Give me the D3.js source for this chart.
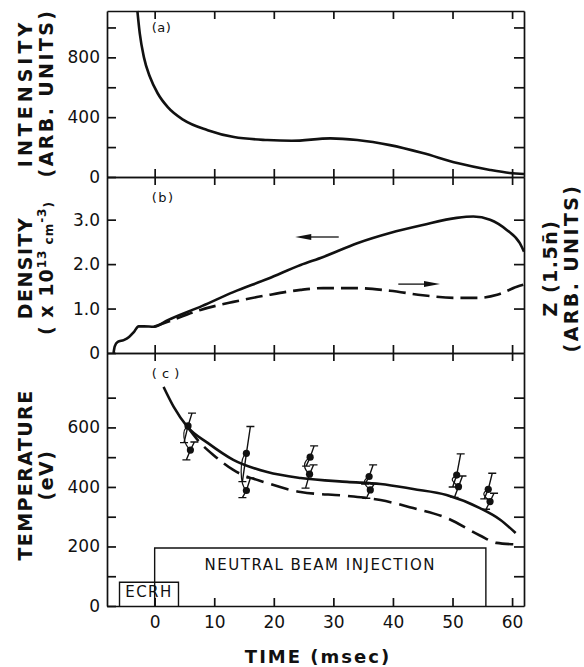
<!DOCTYPE html>
<html>
<head>
<meta charset="utf-8">
<script src="https://cdn.jsdelivr.net/npm/d3@7"></script>
<style>
  body { margin: 0; background: #fff; }
  svg { font-family: "DejaVu Sans", sans-serif; }
</style>
</head>
<body>
<div class="chart"></div>
<script>
// time axis (msec)
var timeTicks = [0, 10, 20, 30, 40, 50, 60];

// (a) intensity, arb. units
var intensityTime  = [-2.9, -2.5, -1.8, -0.8, 0.5, 2.2, 4.9, 8.9, 13.3, 18.9, 23, 29.5, 34, 39.5, 45, 50.8, 56.3, 59.6, 62];
var intensityValue = [1110, 960, 800, 670, 560, 467, 380, 313, 267, 247, 242, 258, 247, 213, 160, 93, 47, 27, 20];
var intensityTicks = [0, 200, 400, 600, 800, 1000];
var intensityLabels = [0, 400, 800];

// (b) density, x10^13 cm^-3 (left axis) and Z(1.5 n) (right axis)
var densityTime  = [-6.9, -6.7, -6.2, -5.2, -4.3, -3.5, -2.7, -1.8, -0.1, 2.2, 8, 13.2, 19, 24.5, 28.3, 34, 39.5, 45, 50.7, 53.5, 56.3, 59.1, 61.3, 62];
var densityValue = [0, 0.15, 0.25, 0.29, 0.36, 0.47, 0.6, 0.6, 0.59, 0.74, 1.06, 1.37, 1.67, 1.98, 2.16, 2.47, 2.7, 2.88, 3.04, 3.07, 3.0, 2.77, 2.47, 2.28];
var zTime  = [-0.1, 2.2, 7.7, 13.2, 18.9, 24.5, 28.3, 34, 39.5, 45, 50.7, 54.1, 57.5, 60.8, 62];
var zValue = [0.59, 0.7, 0.97, 1.15, 1.3, 1.42, 1.46, 1.46, 1.4, 1.3, 1.24, 1.24, 1.31, 1.49, 1.54];
var densityTicks = [0, 1, 2, 3];

// (c) temperature, eV
var tempTime  = [1.5, 3.2, 5.5, 8.9, 13.2, 18.9, 24.5, 32.3, 37.9, 43.4, 49, 54.6, 58, 60.6];
var tempValue = [736, 669, 602, 548, 491, 450, 430, 417, 410, 393, 373, 329, 290, 245];
var tempDashTime  = [5.5, 7.2, 10, 13.2, 18.9, 24.5, 32.3, 37.9, 43.4, 49, 54.6, 57.4, 60.5, 61.5];
var tempDashValue = [602, 558, 505, 457, 413, 383, 370, 356, 329, 296, 237, 212, 207, 206];
var pointTime  = [5.6, 6.0, 15.4, 15.4, 26.1, 26.0, 36.0, 36.2, 50.7, 51.0, 56.0, 56.3];
var pointValue = [605, 524, 513, 388, 500, 443, 435, 390, 440, 401, 392, 351];
var pointLow   = [549, 491, 418, 364, 470, 396, 410, 362, 400, 365, 360, 325];
var pointHigh  = [648, 551, 603, 430, 538, 474, 474, 410, 511, 437, 446, 379];
var tempTicks = [0, 100, 200, 300, 400, 500, 600, 700];
var tempLabels = [0, 200, 400, 600];

// heating phases
var phaseNames = ['ECRH', 'NEUTRAL BEAM INJECTION'];
var phaseStart = [-5.9, 0];
var phaseEnd   = [4, 55.6];
var phaseLevel = [80, 195];

var svg = d3.select('.chart').append('svg:svg')
  .attr('width', 584)
  .attr('height', 667);

var left = 107, right = 524;
var x = d3.scaleLinear().domain([-8, 62]).range([left, right]);

var yA = d3.scaleLinear().domain([0, 1110]).range([177, 11]);
var yB = d3.scaleLinear().domain([0, 3.96]).range([353, 177]);
var yC = d3.scaleLinear().domain([0, 850]).range([606, 353]);

var zip = function(ts, vs) {
  return ts.map(function(t, i) { return [t, vs[i]]; });
};

var styleAxis = function(g) {
  g.attr('font-family', null).attr('font-size', 17);
  g.selectAll('path, line').attr('stroke', '#111').attr('stroke-width', 1.7);
  g.selectAll('text').attr('fill', '#111');
};

var drawFrame = function(y, ticks, labels, fmt, showTime) {
  svg.append('g')
    .attr('transform', 'translate(' + left + ',0)')
    .call(d3.axisLeft(y).tickValues(ticks).tickSizeInner(-9).tickSizeOuter(0).tickPadding(7)
      .tickFormat(function(d) { return labels.indexOf(d) >= 0 ? fmt(d) : ''; }))
    .call(styleAxis);
  svg.append('g')
    .attr('transform', 'translate(' + right + ',0)')
    .call(d3.axisRight(y).tickValues(ticks.filter(function(d) { return d > 0; }))
      .tickSizeInner(-10).tickSizeOuter(0).tickFormat(''))
    .call(styleAxis);
  svg.append('g')
    .attr('transform', 'translate(0,' + y.range()[1] + ')')
    .call(d3.axisTop(x).tickValues(timeTicks).tickSizeInner(-8).tickSizeOuter(0).tickFormat(''))
    .call(styleAxis);
  svg.append('g')
    .attr('transform', 'translate(0,' + y.range()[0] + ')')
    .call(d3.axisBottom(x).tickValues(timeTicks).tickSizeInner(-8).tickSizeOuter(0).tickPadding(10)
      .tickFormat(showTime ? d3.format('d') : ''))
    .call(styleAxis);
};

drawFrame(yA, intensityTicks, intensityLabels, d3.format('d'), false);
drawFrame(yB, densityTicks, [0, 1, 2, 3], function(d) { return d === 0 ? '0' : d3.format('.1f')(d); }, false);
drawFrame(yC, tempTicks, tempLabels, d3.format('d'), true);

var curve = function(y, pts, dash) {
  svg.append('path')
    .datum(pts)
    .attr('fill', 'none')
    .attr('stroke', '#111')
    .attr('stroke-width', 2.6)
    .attr('stroke-dasharray', dash || null)
    .attr('d', d3.line()
      .x(function(d) { return x(d[0]); })
      .y(function(d) { return y(d[1]); })
      .curve(d3.curveMonotoneX));
};

curve(yA, zip(intensityTime, intensityValue));
curve(yB, zip(densityTime, densityValue));
curve(yB, zip(zTime, zValue), '17,7');
curve(yC, zip(tempTime, tempValue));
curve(yC, zip(tempDashTime, tempDashValue), '18,8');

// arrows pointing to the axis each density curve belongs to
var arrow = function(t0, t1, v) {
  var x0 = x(t0), x1 = x(t1), yy = yB(v), dir = x1 > x0 ? 1 : -1;
  svg.append('line')
    .attr('x1', x0).attr('x2', x1 - dir * 12)
    .attr('y1', yy).attr('y2', yy)
    .attr('stroke', '#111').attr('stroke-width', 1.3);
  svg.append('path')
    .attr('d', 'M' + x1 + ',' + yy + 'L' + (x1 - dir * 16) + ',' + (yy - 3) + 'L' + (x1 - dir * 16) + ',' + (yy + 3) + 'Z')
    .attr('fill', '#111');
};
arrow(30.9, 23.6, 2.61);
arrow(40.9, 47.9, 1.55);

// measured temperatures with error bars; pairs are joined by a small hook
var pts = svg.append('g');
pointTime.forEach(function(t, i) {
  var cx = x(t);
  var lo = yC(pointLow[i]), hi = yC(pointHigh[i]), cy = yC(pointValue[i]);
  pts.append('path')
    .attr('d', 'M' + (cx - 4) + ',' + lo + 'L' + cx + ',' + cy + 'L' + (cx + 4) + ',' + hi +
      'M' + (cx - 8) + ',' + lo + 'H' + cx +
      'M' + cx + ',' + hi + 'H' + (cx + 8))
    .attr('fill', 'none')
    .attr('stroke', '#111')
    .attr('stroke-width', 1.4);
  if (i % 2 === 0) {
    var bx = x(pointTime[i + 1]), by = yC(pointValue[i + 1]);
    pts.append('path')
      .attr('d', 'M' + cx + ',' + cy + 'C' + (cx - 7) + ',' + (cy + 4) + ' ' + (bx - 7) + ',' + (by - 6) + ' ' + bx + ',' + by)
      .attr('fill', 'none')
      .attr('stroke', '#111')
      .attr('stroke-width', 1.2);
  }
  pts.append('circle')
    .attr('cx', cx).attr('cy', cy).attr('r', 3.6)
    .attr('fill', '#111');
});

// heating phase boxes
phaseNames.forEach(function(name, i) {
  var x0 = x(phaseStart[i]), x1 = x(phaseEnd[i]), top = yC(phaseLevel[i]);
  svg.append('path')
    .attr('d', 'M' + x0 + ',' + yC(0) + 'V' + top + 'H' + x1 + 'V' + yC(0))
    .attr('fill', 'none').attr('stroke', '#111').attr('stroke-width', 1.4);
  svg.append('text')
    .attr('x', (x0 + x1) / 2)
    .attr('y', i === 0 ? 597 : 570)
    .attr('text-anchor', 'middle')
    .attr('font-size', 15)
    .attr('letter-spacing', 1.5)
    .attr('fill', '#111')
    .text(name);
});

// panel tags
[['(a)', yA, 1000, 0.5], ['(b)', yB, 3.5, 1.5], ['( c )', yC, 780, 0.5]].forEach(function(p) {
  svg.append('text')
    .attr('x', x(-0.5))
    .attr('y', p[1](p[2]))
    .attr('dy', '0.35em')
    .attr('font-size', 13)
    .attr('letter-spacing', p[3])
    .attr('fill', '#111')
    .text(p[0]);
});

// axis titles
var vtitle = function(cx, cy, lines, spacing) {
  var t = svg.append('text')
    .attr('transform', 'translate(' + cx + ',' + cy + ') rotate(-90)')
    .attr('text-anchor', 'middle')
    .attr('font-weight', 'bold')
    .attr('font-size', 19)
    .attr('fill', '#111');
  lines.forEach(function(l, i) {
    var ts = t.append('tspan').attr('x', 0).attr('y', i * 21).attr('letter-spacing', spacing[i]);
    l.forEach(function(part) {
      ts.append('tspan')
        .attr('font-size', part[1] ? 12 : null)
        .attr('dy', part[1] === 'sup' ? -7 : part[1] === 'base' ? 7 : null)
        .text(part[0]);
    });
  });
};

vtitle(32, 93, [[['INTENSITY']], [['(ARB. UNITS)']]], [4, 2.4]);
vtitle(32, 268, [[['DENSITY']], [['( x 10'], ['13', 'sup'], [' cm', 'base'], ['-3', 'sup'], [')', 'base']]], [1.5, 1]);
vtitle(32, 475, [[['TEMPERATURE']], [['(eV)']]], [1.4, 1.5]);
vtitle(557, 268, [[['Z (1.5n\u0304)']], [['(ARB. UNITS)']]], [1.5, 2.4]);

svg.append('text')
  .attr('x', 318)
  .attr('y', 663)
  .attr('text-anchor', 'middle')
  .attr('font-weight', 'bold')
  .attr('font-size', 18)
  .attr('letter-spacing', 2)
  .attr('fill', '#111')
  .text('TIME (msec)');
</script>
</body>
</html>
